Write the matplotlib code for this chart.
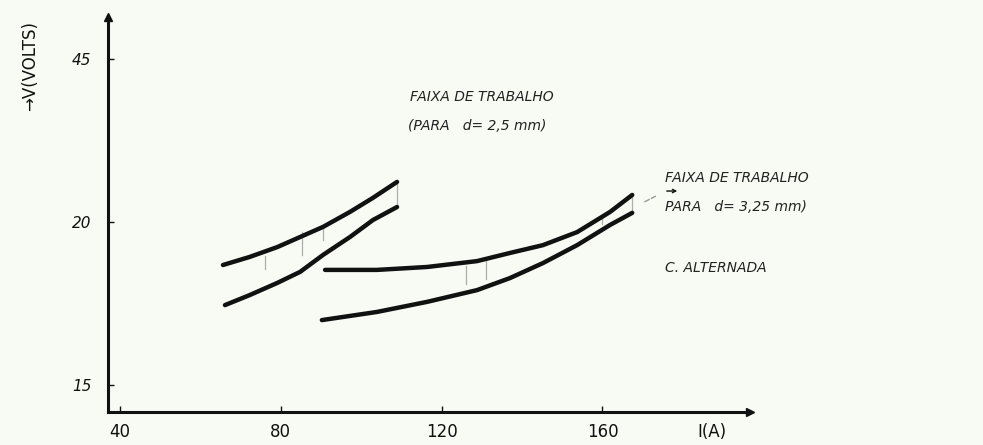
import matplotlib
matplotlib.use("Agg")
import matplotlib.pyplot as plt

# Working ranges (welding current vs. arc voltage), electrode d = 2,5 mm
i_25_upper = [65.6, 72.3, 79.1, 84.8, 90.5, 97.2, 102.9, 108.9]
v_25_upper = [18.68, 18.93, 19.23, 19.54, 19.85, 20.31, 20.74, 21.23]
i_25_lower = [66.1, 72.3, 79.1, 84.8, 90.5, 97.2, 102.9, 108.9]
v_25_lower = [17.45, 17.76, 18.13, 18.47, 18.99, 19.54, 20.06, 20.46]

# Working ranges, electrode d = 3,25 mm
i_325_upper = [91.0, 103.9, 116.4, 128.8, 137.0, 145.2, 153.7, 161.9, 167.4]
v_325_upper = [18.53, 18.53, 18.62, 18.80, 19.05, 19.29, 19.69, 20.31, 20.83]
i_325_lower = [90.2, 103.9, 116.4, 128.8, 137.0, 145.2, 153.7, 161.9, 167.4]
v_325_lower = [16.99, 17.24, 17.55, 17.91, 18.28, 18.74, 19.29, 19.91, 20.28]

# light hatch strokes across the bands: (current, v_from, v_to)
hatch_i = [76.0, 85.3, 90.5, 108.9, 126.0, 131.0, 160.0, 167.4]
hatch_v0 = [18.55, 18.99, 19.45, 20.46, 18.10, 18.25, 19.95, 20.28]
hatch_v1 = [18.95, 19.69, 19.82, 21.23, 18.65, 18.85, 20.20, 20.83]

x_ticks = [40, 80, 120, 160]
x_tick_labels = ["40", "80", "120", "160"]
y_ticks = [15, 20, 25]
y_tick_labels = ["15", "20", "45"]

bg = "#f8faf4"
ink = "#111111"

fig = plt.figure(figsize=(9.83, 4.45), dpi=100, facecolor=bg)
ax = fig.add_axes([108 / 983, 1 - 412 / 445, (750 - 108) / 983, (412 - 17) / 445])
ax.set_facecolor(bg)
ax.set_xlim(37.0, 196.7)
ax.set_ylim(14.17, 26.29)

for s in ("top", "right"):
    ax.spines[s].set_visible(False)
for s in ("left", "bottom"):
    ax.spines[s].set_linewidth(2.2)
    ax.spines[s].set_color(ink)

# arrow heads on the axes
ax.plot(1, 0, ">", transform=ax.transAxes, color=ink, ms=6, clip_on=False)
ax.plot(0, 1, "^", transform=ax.transAxes, color=ink, ms=6, clip_on=False)

ax.set_xticks(x_ticks)
ax.set_xticklabels(x_tick_labels, fontsize=12, color=ink)
ax.set_yticks(y_ticks)
ax.set_yticklabels(y_tick_labels, fontsize=11, color=ink, fontstyle="italic")
ax.tick_params(axis="x", direction="in", length=4, width=1, pad=8, colors=ink)
ax.tick_params(axis="y", direction="in", length=4, width=1, pad=12, colors=ink)

for xi, a, b in zip(hatch_i, hatch_v0, hatch_v1):
    ax.plot([xi, xi], [a, b], color="#9a9a9a", lw=0.9, alpha=0.8)

curve_kw = dict(color=ink, lw=3.2, solid_capstyle="round", solid_joinstyle="round")
ax.plot(i_25_upper, v_25_upper, **curve_kw)
ax.plot(i_25_lower, v_25_lower, **curve_kw)
ax.plot(i_325_upper, v_325_upper, **curve_kw)
ax.plot(i_325_lower, v_325_lower, **curve_kw)

# axis titles
fig.text(712 / 983, 1 - 432 / 445, "I(A)", fontsize=12, color=ink, ha="center", va="center")
fig.text(30 / 983, 1 - 66 / 445, "→V(VOLTS)", fontsize=12, color=ink, rotation=90,
         ha="center", va="center")

# annotations
txt_kw = dict(fontsize=10, color="#222222", fontstyle="italic")
fig.text(410 / 983, 1 - 97 / 445, "FAIXA DE TRABALHO", va="center", **txt_kw)
fig.text(408 / 983, 1 - 126 / 445, "(PARA   d= 2,5 mm)", va="center", **txt_kw)
fig.text(665 / 983, 1 - 178 / 445, "FAIXA DE TRABALHO", va="center", **txt_kw)
fig.text(665 / 983, 1 - 207 / 445, "PARA   d= 3,25 mm)", va="center", **txt_kw)
fig.text(665 / 983, 1 - 268 / 445, "C. ALTERNADA", va="center", **txt_kw)

# leader from the 3,25 mm band to its label
ax.annotate("", xy=(173.8, 20.83), xytext=(169.9, 20.58),
            arrowprops=dict(arrowstyle="-", color="#999999", lw=1, ls="--"))
ax.annotate("", xy=(179.3, 20.95), xytext=(175.3, 20.95),
            arrowprops=dict(arrowstyle="->", color=ink, lw=1, mutation_scale=6))

fig.savefig("out.png", dpi=100, facecolor=bg)
